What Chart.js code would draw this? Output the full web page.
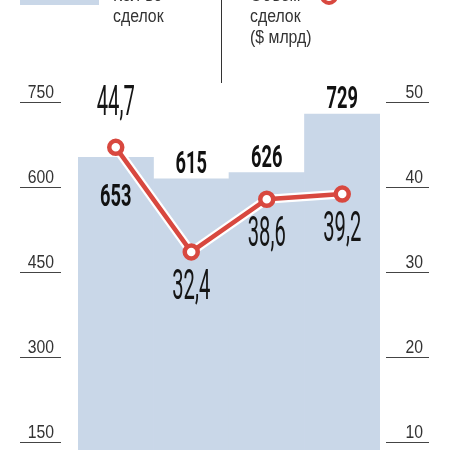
<!DOCTYPE html>
<html><head><meta charset="utf-8">
<script src="https://cdn.jsdelivr.net/npm/chart.js@4/dist/chart.umd.min.js"></script>
<style>
html,body{margin:0;padding:0;background:#fff;overflow:hidden;width:450px;height:450px;}
#wrap{position:absolute;left:0;top:0;width:450px;height:540px;}
.lg{position:absolute;font-family:"Liberation Sans",Arial,sans-serif;font-size:18px;line-height:21px;color:#333;transform:scaleX(0.88);transform-origin:left top;white-space:nowrap;}
</style></head>
<body>
<div id="wrap"><canvas id="c" width="450" height="540"></canvas></div>
<div style="position:absolute;left:20px;top:-10px;width:79px;height:15px;background:#c9d7e8;"></div>
<div class="lg" style="left:113px;top:-15px;">Кол-во<br>сделок</div>
<div style="position:absolute;left:221px;top:0;width:1.4px;height:83px;background:#333;"></div>
<div class="lg" style="left:250px;top:-15px;">Объем<br>сделок<br>($ млрд)</div>
<div style="position:absolute;left:320px;top:-13px;width:18px;height:18px;box-sizing:border-box;border:4px solid #d8483f;border-radius:50%;background:#fff;"></div>
<script>
const categories = ["Период 1", "Период 2", "Период 3", "Период 4"];
const dealCount = [653, 615, 626, 729];
const dealVolume = [44.7, 32.4, 38.6, 39.2];
const leftTicks = [150, 300, 450, 600, 750];
const rightTicks = [10, 20, 30, 40, 50];
const volumeLabelSide = ["above", "below", "below", "below"];

const BLUE = "#c9d7e8";
const RED = "#d8483f";

const fmt = v => v.toFixed(1).replace(".", ",");

function condensedText(ctx, text, x, y, font, sx, align) {
  ctx.save();
  ctx.font = font;
  const w = ctx.measureText(text).width * sx;
  let left = x;
  if (align === "center") left = x - w / 2;
  else if (align === "right") left = x - w;
  ctx.translate(left, y);
  ctx.scale(sx, 1);
  ctx.textAlign = "left";
  ctx.fillText(text, 0, 0);
  ctx.restore();
}

const decor = {
  id: "decor",
  beforeDatasetDraw(chart, args) {
    if (args.index !== 1) return;
    const pts = chart.getDatasetMeta(1).data;
    const ctx = chart.ctx;
    ctx.save();
    ctx.strokeStyle = "#ffffff";
    ctx.lineWidth = 9;
    ctx.lineJoin = "round";
    ctx.beginPath();
    pts.forEach((p, i) => i ? ctx.lineTo(p.x, p.y) : ctx.moveTo(p.x, p.y));
    ctx.stroke();
    ctx.restore();
  },
  afterDraw(chart) {
    const ctx = chart.ctx;
    const ys = chart.scales.y, ys1 = chart.scales.y1;
    ctx.save();
    ctx.strokeStyle = "#444";
    ctx.lineWidth = 1;
    ctx.fillStyle = "#333";
    ctx.textBaseline = "alphabetic";
    const tickFont = '17.5px "Liberation Sans", Arial, sans-serif';
    leftTicks.forEach(v => {
      const y = Math.round(ys.getPixelForValue(v)) + 0.5;
      ctx.beginPath(); ctx.moveTo(20, y); ctx.lineTo(61, y); ctx.stroke();
      condensedText(ctx, String(v), 54, y - 5, tickFont, 0.9, "right");
    });
    rightTicks.forEach(v => {
      const y = Math.round(ys1.getPixelForValue(v)) + 0.5;
      ctx.beginPath(); ctx.moveTo(386, y); ctx.lineTo(429, y); ctx.stroke();
      condensedText(ctx, String(v), 423, y - 5, tickFont, 0.9, "right");
    });
    // bar labels
    ctx.fillStyle = "#111";
    ctx.textBaseline = "middle";
    const bars = chart.getDatasetMeta(0).data;
    bars.forEach((b, i) => {
      const y = i === 0 ? b.y + 41 : b.y - 14;
      condensedText(ctx, String(dealCount[i]), b.x, y, 'bold 32px Roboto, "DejaVu Sans", sans-serif', 0.57, "center");
    });
    // line labels
    ctx.fillStyle = "#151515";
    const pts = chart.getDatasetMeta(1).data;
    pts.forEach((p, i) => {
      const y = volumeLabelSide[i] === "above" ? p.y - 43 : p.y + 36;
      condensedText(ctx, fmt(dealVolume[i]), p.x, y, '400 43px Roboto, "DejaVu Sans", sans-serif', 0.47, "center");
    });
    ctx.restore();
  }
};

new Chart(document.getElementById("c"), {
  type: "bar",
  data: {
    labels: categories,
    datasets: [
      {
        type: "bar",
        data: dealCount,
        yAxisID: "y",
        backgroundColor: BLUE,
        borderWidth: 0,
        barPercentage: 1,
        categoryPercentage: 1,
        order: 2
      },
      {
        type: "line",
        data: dealVolume,
        yAxisID: "y1",
        borderColor: RED,
        borderWidth: 4.5,
        pointRadius: 6.5,
        pointBorderWidth: 4.5,
        pointBackgroundColor: "#ffffff",
        pointBorderColor: RED,
        tension: 0,
        order: 1
      }
    ]
  },
  options: {
    responsive: false,
    animation: false,
    layout: { padding: { left: 78, right: 70, top: 102.3, bottom: 12.7 } },
    plugins: { legend: { display: false }, tooltip: { enabled: false } },
    scales: {
      x: { display: false, offset: true },
      y: { display: false, min: 0, max: 750 },
      y1: { display: false, min: 0, max: 50 }
    }
  },
  plugins: [decor]
});
</script>
</body></html>
